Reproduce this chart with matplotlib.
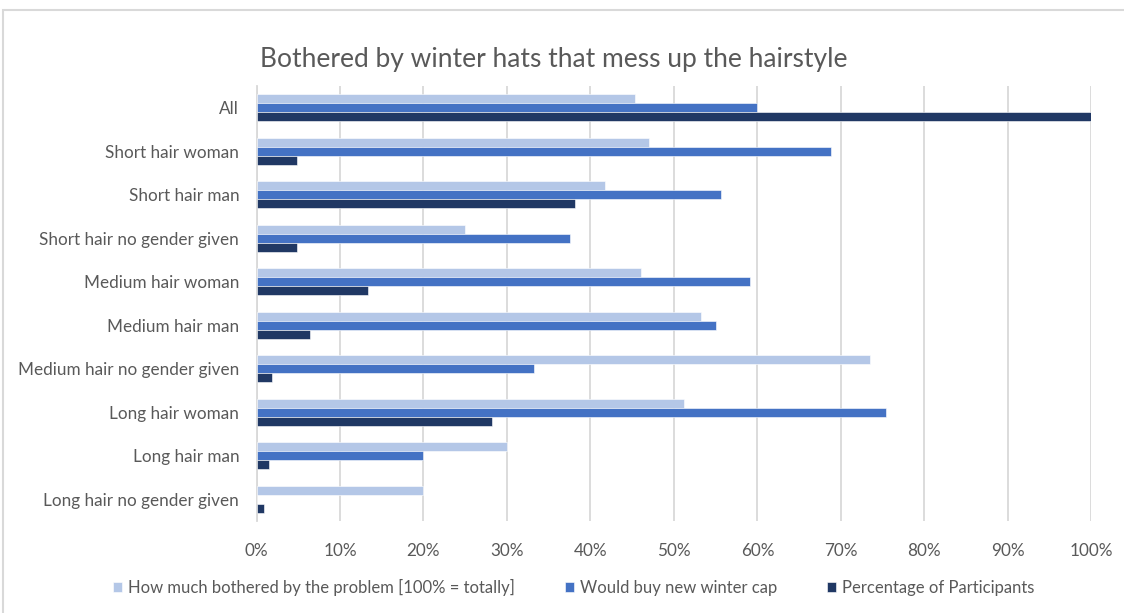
import matplotlib
matplotlib.use("Agg")
import matplotlib.pyplot as plt
from matplotlib.patches import Rectangle
from matplotlib.ticker import PercentFormatter
import numpy as np

plt.rcParams['font.family'] = ['Lato', 'DejaVu Sans']

categories = ["All", "Short hair woman", "Short hair man", "Short hair no gender given",
              "Medium hair woman", "Medium hair man", "Medium hair no gender given",
              "Long hair woman", "Long hair man", "Long hair no gender given"]
bothered = [45.4, 47.0, 41.8, 25.0, 46.0, 53.3, 73.5, 51.2, 30.0, 20.0]
would_buy = [60.0, 68.8, 55.6, 37.6, 59.1, 55.1, 33.3, 75.4, 20.0, 0.0]
participants = [100.0, 4.9, 38.2, 4.9, 13.3, 6.4, 1.8, 28.2, 1.5, 0.9]
series_names = ["How much bothered by the problem [100% = totally]",
                "Would buy new winter cap", "Percentage of Participants"]
colors = ["#B4C7E7", "#4472C4", "#203864"]
xticks = list(range(0, 101, 10))

fig = plt.figure(figsize=(11.24, 6.13), dpi=100)
ax = fig.add_axes([256.5/1124, 1-521/613, (1091.3-256.5)/1124, (521-86)/613])

y = np.arange(len(categories))
h = 0.207
for i, (vals, name, c) in enumerate(zip([bothered, would_buy, participants], series_names, colors)):
    ax.barh(y + (i-1)*h, vals, height=h, color=c, label=name,
            edgecolor='white', linewidth=0.4, zorder=3)

ax.set_ylim(len(categories)-0.5, -0.5)
ax.set_xlim(0, 100)
ax.set_xticks(xticks)
ax.xaxis.set_major_formatter(PercentFormatter(decimals=0))
ax.set_yticks(y)
ax.set_yticklabels(categories)
ax.grid(axis='x', color='#D9D9D9', linewidth=1.3, zorder=0)
for s in ['top', 'right', 'bottom']:
    ax.spines[s].set_visible(False)
ax.spines['left'].set_color('#D9D9D9')
ax.spines['left'].set_linewidth(1.3)
ax.tick_params(axis='both', length=0, labelsize=12.3, labelcolor='#595959')
ax.tick_params(axis='x', pad=16)
ax.tick_params(axis='y', pad=12.5)

fig.text(554/1124, 1-59/613, "Bothered by winter hats that mess up the hairstyle",
         ha='center', va='center', fontsize=19, color='#595959')

leg = fig.legend(loc='center', bbox_to_anchor=(573.5/1124, 1-587/613), ncol=3, frameon=False,
                 fontsize=12.0, handlelength=0.55, handleheight=0.55, handletextpad=0.35,
                 columnspacing=3.0)
for t in leg.get_texts():
    t.set_color('#595959')

fig.patches.append(Rectangle((3/1124, -0.1), 1.2, 1-10/613+0.1, transform=fig.transFigure,
                             fill=False, edgecolor='#D9D9D9', linewidth=1.5))

fig.savefig("out.png", dpi=100)
